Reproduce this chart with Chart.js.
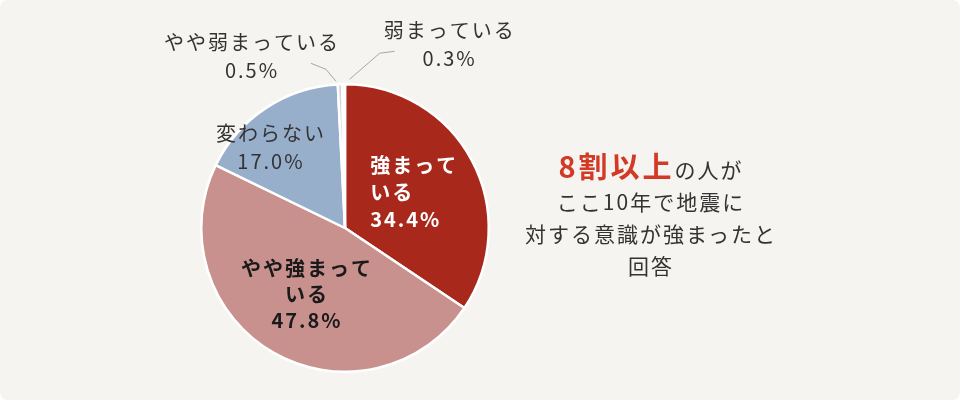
<!DOCTYPE html>
<html><head><meta charset="utf-8">
<script src="https://cdn.jsdelivr.net/npm/chart.js@4"></script>
<style>
html,body{margin:0;padding:0;background:#fff;}
#wrap{position:relative;width:960px;height:400px;background:#f5f4f0;border-radius:8px;overflow:hidden;}
canvas{position:absolute;left:0;top:0;}
#note{position:absolute;left:500px;top:145px;width:302px;text-align:center;font-family:"Noto Sans CJK JP";color:#333;font-size:21px;letter-spacing:2px;}
#note div{height:32px;line-height:32px;white-space:nowrap;}
#note div.first{height:40px;line-height:40px;}
#note .hl{color:#d23a26;font-weight:bold;font-size:29px;letter-spacing:3px;}
</style></head>
<body>
<div id="wrap">
<canvas id="c" width="960" height="400"></canvas>
<div id="note"><div class="first"><span class="hl">8割以上</span>の人が</div><div>ここ10年で地震に</div><div>対する意識が強まったと</div><div>回答</div></div>
</div>
<script>
const categories = ["強まっている", "やや強まっている", "変わらない", "やや弱まっている", "弱まっている"];
const values = [34.4, 47.8, 17.0, 0.5, 0.3];
const valueLabels = ["34.4%", "47.8%", "17.0%", "0.5%", "0.3%"];
const labelLines = [["強まって", "いる", "34.4%"], ["やや強まって", "いる", "47.8%"], ["変わらない", "17.0%"], ["やや弱まっている", "0.5%"], ["弱まっている", "0.3%"]];
const colors = ["#a8291b", "#c9918d", "#98afcb", "#d4d4d4", "#d4d4d4"];

const FONT = '"Noto Sans CJK JP", sans-serif';
const labelPlugin = {
  id: 'labels',
  afterDatasetsDraw(chart) {
    const ctx = chart.ctx;
    const meta = chart.getDatasetMeta(0);
    ctx.save();
    ctx.textBaseline = 'middle';
    ctx.letterSpacing = '2px';
    meta.data.forEach((arc, i) => {
      const p = arc.getProps(['x', 'y', 'startAngle', 'endAngle', 'outerRadius']);
      const mid = (p.startAngle + p.endAngle) / 2;
      const lines = labelLines[i];
      if (i === 0 || i === 1) {
        const r = p.outerRadius * 0.53;
        const cx = p.x + Math.cos(mid) * r, cy = p.y + Math.sin(mid) * r;
        ctx.font = 'bold 20px ' + FONT;
        ctx.fillStyle = i === 0 ? '#ffffff' : '#1a1a1a';
        if (i === 0) {
          ctx.textAlign = 'left';
          lines.forEach((t, k) => ctx.fillText(t, cx - 42, cy - 27 + k * 27));
        } else {
          ctx.textAlign = 'center';
          lines.forEach((t, k) => ctx.fillText(t, cx, cy - 26 + k * 26));
        }
      } else if (i === 2) {
        const r = p.outerRadius * 0.76;
        const a = mid - 0.16;
        const cx = p.x + Math.cos(a) * r, cy = p.y + Math.sin(a) * r;
        ctx.font = '20px ' + FONT;
        ctx.fillStyle = '#333333';
        ctx.textAlign = 'center';
        lines.forEach((t, k) => ctx.fillText(t, cx, cy - 14 + k * 28));
      } else {
        const ox = p.x + Math.cos(mid) * p.outerRadius;
        const oy = p.y + Math.sin(mid) * p.outerRadius;
        ctx.strokeStyle = '#a6a6a6';
        ctx.lineWidth = 1;
        ctx.beginPath();
        let tx;
        if (i === 3) {
          ctx.moveTo(ox - 4, oy - 3);
          ctx.lineTo(ox - 14, oy - 15);
          ctx.lineTo(ox - 29, oy - 21);
          tx = ox - 88;
        } else {
          ctx.moveTo(ox + 6, oy - 5);
          ctx.lineTo(ox + 36, oy - 31);
          ctx.lineTo(ox + 51, oy - 33);
          tx = ox + 106;
        }
        ctx.stroke();
        const ty = i === 3 ? 42 : 30;
        ctx.font = '20px ' + FONT;
        ctx.fillStyle = '#333333';
        ctx.textAlign = 'center';
        lines.forEach((t, k) => ctx.fillText(t, tx, ty + k * 28));
      }
    });
    ctx.restore();
  }
};

new Chart(document.getElementById('c'), {
  type: 'pie',
  data: {
    labels: categories,
    datasets: [{
      data: values,
      backgroundColor: colors,
      borderColor: '#ffffff',
      borderWidth: 2.5
    }]
  },
  options: {
    responsive: false,
    animation: false,
    layout: { padding: { left: 200, right: 470, top: 83, bottom: 27 } },
    plugins: { legend: { display: false }, tooltip: { enabled: false } }
  },
  plugins: [labelPlugin]
});
</script>
</body></html>
